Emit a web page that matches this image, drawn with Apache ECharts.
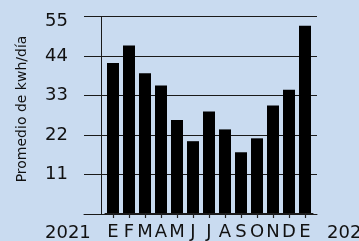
<!DOCTYPE html>
<html><head><meta charset="utf-8">
<script src="https://cdn.jsdelivr.net/npm/echarts@6/dist/echarts.min.js"></script>
<style>html,body{margin:0;padding:0;background:#c9dbf0;}#c{width:359px;height:241px;}</style>
</head><body><div id="c"></div>
<script>
const months = ['E','F','M','A','M','J','J','A','S','O','N','D','E'];
const values = [42.0, 46.9, 39.1, 35.7, 26.0, 20.1, 28.4, 23.4, 17.0, 20.9, 30.1, 34.5, 52.4];
const yTicks = [0, 11, 22, 33, 44, 55];
const yearStart = '2021';
const yearEnd = '2022';
const yName = 'Promedio de kwh/día';

const FONT = 'DejaVu Sans';
const LINE = '#1a1a1a';
const yMin = yTicks[0], yMax = yTicks[yTicks.length - 1], yStep = yTicks[1] - yTicks[0];
const TOP = 16.5, BOTTOM = 27;
const chart = echarts.init(document.getElementById('c'));
chart.setOption({
  backgroundColor: '#c9dbf0',
  animation: false,
  grid: [
    {left: 105, right: 46, top: TOP, bottom: BOTTOM},  // bars
    {left: 84, right: 42, top: TOP, bottom: BOTTOM},   // gridlines + bottom line + labels
    {left: 101, right: 42, top: TOP, bottom: BOTTOM}   // vertical axis line
  ],
  xAxis: [
    {gridIndex: 0, type: 'category', data: months, boundaryGap: true,
      axisLine: {show: true, lineStyle: {color: LINE, width: 1}},
      axisTick: {show: true, alignWithLabel: true, interval: 0, length: 5, lineStyle: {color: '#222', width: 1.2}},
      axisLabel: {margin: 10, interval: 0, fontFamily: FONT, fontSize: 18, color: '#111'}},
    {gridIndex: 1, type: 'value', min: 0, max: 1, show: true,
      axisLine: {show: true, lineStyle: {color: LINE, width: 1}},
      axisTick: {show: false}, axisLabel: {show: false}, splitLine: {show: false}},
    {gridIndex: 2, type: 'value', min: 0, max: 1, show: false}
  ],
  yAxis: [
    {gridIndex: 0, type: 'value', min: yMin, max: yMax, interval: yStep, show: false, splitLine: {show: false}},
    {gridIndex: 1, type: 'value', min: yMin, max: yMax, interval: yStep,
      axisLine: {show: false}, axisTick: {show: false},
      axisLabel: {margin: 16, fontFamily: FONT, fontSize: 18, color: '#111',
        formatter: v => v === yMin ? '' : (v === yMax ? '{t|' + v + '}' : String(v)),
        rich: {t: {fontFamily: FONT, fontSize: 18, color: '#111', padding: [10, 0, 0, 0]}}},
      splitLine: {show: true, lineStyle: {color: LINE, width: 1}}},
    {gridIndex: 2, type: 'value', min: yMin, max: yMax, interval: yStep,
      axisLine: {show: true, lineStyle: {color: LINE, width: 1}},
      axisTick: {show: false}, axisLabel: {show: false}, splitLine: {show: false}}
  ],
  graphic: [
    {type: 'text', left: 45, top: 224, style: {text: yearStart, font: '18px "DejaVu Sans"', fill: '#111'}},
    {type: 'text', left: 327, top: 224, style: {text: yearEnd, font: '18px "DejaVu Sans"', fill: '#111'}},
    {type: 'text', x: 22, y: 109, rotation: Math.PI / 2,
      style: {text: yName, font: '14px "DejaVu Sans"', fill: '#111', align: 'center', verticalAlign: 'middle'}}
  ],
  series: [{
    type: 'bar', xAxisIndex: 0, yAxisIndex: 0, data: values, barWidth: 12,
    itemStyle: {color: '#000'}
  }]
});
</script></body></html>
